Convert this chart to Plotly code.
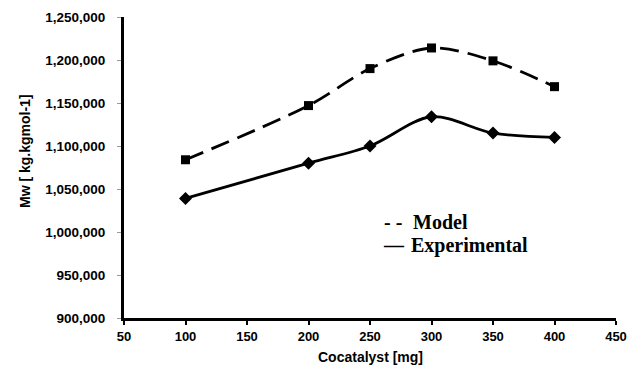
import plotly.graph_objects as go

cocatalyst = [100, 200, 250, 300, 350, 400]
mw_model = [1084000, 1147000, 1190000, 1214000, 1199000, 1169000]
mw_experimental = [1039000, 1080000, 1100000, 1134000, 1115000, 1110000]

x_ticks = [50, 100, 150, 200, 250, 300, 350, 400, 450]
y_ticks = [900000, 950000, 1000000, 1050000, 1100000, 1150000, 1200000, 1250000]

W, H = 629, 370
PL, PR, PT, PB = 124, 616, 17, 318  # plot area in page pixels


def px(p):
    return (p - PL) / (PR - PL)


def py(p):
    return (PB - p) / (PB - PT)


fig = go.Figure()
fig.add_trace(go.Scatter(
    x=cocatalyst, y=mw_model, mode="lines+markers", name="Model",
    line=dict(color="black", width=2.8, dash="19px,9px", shape="spline", smoothing=0.9),
    marker=dict(symbol="square", size=9, color="black"),
    showlegend=False, cliponaxis=False,
))
fig.add_trace(go.Scatter(
    x=cocatalyst, y=mw_experimental, mode="lines+markers", name="Experimental",
    line=dict(color="black", width=2.8, shape="spline", smoothing=0.9),
    marker=dict(symbol="diamond", size=10, color="black"),
    showlegend=False, cliponaxis=False,
))

tick_font = dict(family="Liberation Sans, Arial", size=13.5, color="black")
xtick_font = dict(family="Liberation Sans, Arial", size=13, color="black")
serif = dict(family="Liberation Serif, Times New Roman", size=20, color="black")
fig.update_layout(
    width=W, height=H,
    margin=dict(l=PL, r=W - PR, t=PT, b=H - PB),
    paper_bgcolor="white", plot_bgcolor="white",
    font=dict(family="Liberation Sans, Arial", color="black"),
    xaxis=dict(
        range=[50, 450], tickvals=x_ticks, ticktext=[f"<b>{v}</b>" for v in x_ticks],
        showline=True, linecolor="black", linewidth=3, showgrid=False, zeroline=False,
        ticks="outside", ticklen=4, tickwidth=2, tickcolor="black", tickfont=xtick_font,
        automargin=False, ticklabeloverflow="allow",
    ),
    yaxis=dict(
        range=[900000, 1250000], tickvals=y_ticks,
        ticktext=[f"<b>{v:,}</b>" for v in y_ticks],
        showline=True, linecolor="black", linewidth=3, showgrid=False, zeroline=False,
        ticks="outside", ticklen=4, tickwidth=1, tickcolor="#999", tickfont=tick_font,
        automargin=False, ticklabelstandoff=9, ticklabeloverflow="allow",
    ),
    annotations=[
        dict(text="<b>Mw [ kg.kgmol-1]</b>", xref="paper", yref="paper", x=px(25), y=py(151),
             textangle=-90, xanchor="center", yanchor="middle", showarrow=False,
             font=dict(family="Liberation Sans, Arial", size=14, color="black")),
        dict(text="<b>Cocatalyst [mg]</b>", xref="paper", yref="paper", x=px(370), y=py(357),
             xanchor="center", yanchor="middle", showarrow=False,
             font=dict(family="Liberation Sans, Arial", size=14, color="black")),
        dict(text="<b>- -</b>", xref="paper", yref="paper", x=px(382), y=py(222),
             xanchor="left", yanchor="middle", showarrow=False, font=serif),
        dict(text="<b>Model</b>", xref="paper", yref="paper", x=px(411), y=py(222),
             xanchor="left", yanchor="middle", showarrow=False, font=serif),
        dict(text="<b>—</b>", xref="paper", yref="paper", x=px(381), y=py(245),
             xanchor="left", yanchor="middle", showarrow=False, font=serif),
        dict(text="<b>Experimental</b>", xref="paper", yref="paper", x=px(409), y=py(245),
             xanchor="left", yanchor="middle", showarrow=False, font=serif),
    ],
)
fig.write_html(
    "out.html",
    config=dict(displayModeBar=False),
    post_script="document.body.style.margin='0';document.body.style.overflow='hidden';",
)
